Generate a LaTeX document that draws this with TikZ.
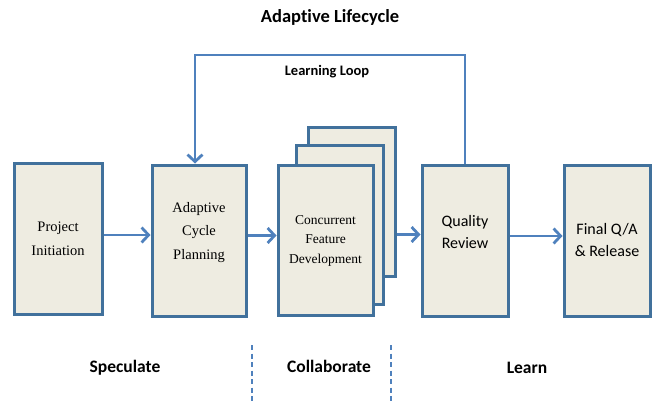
\documentclass[tikz,border=0pt]{standalone}
\usepackage{fontspec}
\setmainfont{Liberation Serif}
\setsansfont{Carlito}[Ligatures=NoCommon]
\usetikzlibrary{arrows.meta}

\definecolor{edgeblue}{HTML}{41719C}
\definecolor{loopblue}{HTML}{4F81BD}
\definecolor{paper}{HTML}{EEECE1}

\begin{document}
\begin{tikzpicture}[x=1pt,y=-1pt,
  box/.style={draw=edgeblue, fill=paper, line width=3pt, align=center,
    minimum width=#1, minimum height=151pt, inner sep=2pt},
  serifbox/.style={align=center, font=\fontsize{14.5}{23.5}\selectfont},
  sansbox/.style={align=center, font=\sffamily\fontsize{16}{22}\selectfont},
  flow/.style={draw=loopblue, line width=2.8pt,
    -{Straight Barb[length=7pt,width=15pt,line width=2.8pt]}},
  phase/.style={font=\sffamily\bfseries\fontsize{17.5}{20}\selectfont},
  divider/.style={draw=loopblue, line width=2pt, dash pattern=on 5pt off 3.5pt}]
\useasboundingbox (0,0) rectangle (652,404);

\node[font=\sffamily\bfseries\fontsize{18.5}{20}\selectfont] (title) at (330,17) {Adaptive Lifecycle};

% the five stages
\node[box=88pt, serifbox] (init) at (58,239) {Project\\Initiation};
\node[box=94pt] (plan) at (199,240.5) {};
\node[serifbox] (plantext) at ([yshift=8pt]plan.center) {Adaptive\\Cycle\\Planning};

% stacked sheets behind the feature stage
\node[box=87pt, minimum height=149pt] (featback) at (351.5,201.5) {};
\node[box=87pt, minimum height=159pt] (featmid) at (339.5,224.5) {};
\node[box=95pt, minimum height=150pt, font=\fontsize{13.5}{19.5}\selectfont] (feat) at (325.5,240.5) {Concurrent\\Feature\\Development};

\node[box=86pt] (review) at (465,240.5) {};
\node[sansbox] (reviewtext) at ([yshift=9pt]review.center) {Quality\\Review};
\node[box=86pt, sansbox] (final) at (607,240.5) {Final Q/A\\\& Release};

% forward flow
\draw[flow] ([yshift=4pt]init.east) -- ([yshift=4pt]init.east -| plan.west);
\draw[flow] ([yshift=5pt]plan.east) -- ([yshift=5pt]plan.east -| feat.west);
\draw[flow] ([yshift=6pt]featback.east |- review.west) -- ([yshift=6pt]review.west);
\draw[flow] ([yshift=4.5pt]review.east) -- ([yshift=4.5pt]final.west);

% learning loop back to planning
\coordinate (looptop) at (465,55);
\draw[flow] (review.north) -- (looptop) -| ([xshift=-4pt]plan.north);
\node[font=\sffamily\bfseries\fontsize{14.5}{16}\selectfont] (looplabel) at (327,72) {Learning Loop};

% phases along the bottom
\coordinate (d1top) at (252,345);
\coordinate (d1bot) at (252,404);
\coordinate (d2top) at (391,345);
\coordinate (d2bot) at (391,404);
\draw[divider] (d1top) -- (d1bot);
\draw[divider] (d2top) -- (d2bot);

\node[phase] (speculate) at (125,368) {Speculate};
\node[phase] (collaborate) at (329,366) {Collaborate};
\node[phase] (learn) at (527,368) {Learn};
\end{tikzpicture}
\end{document}
